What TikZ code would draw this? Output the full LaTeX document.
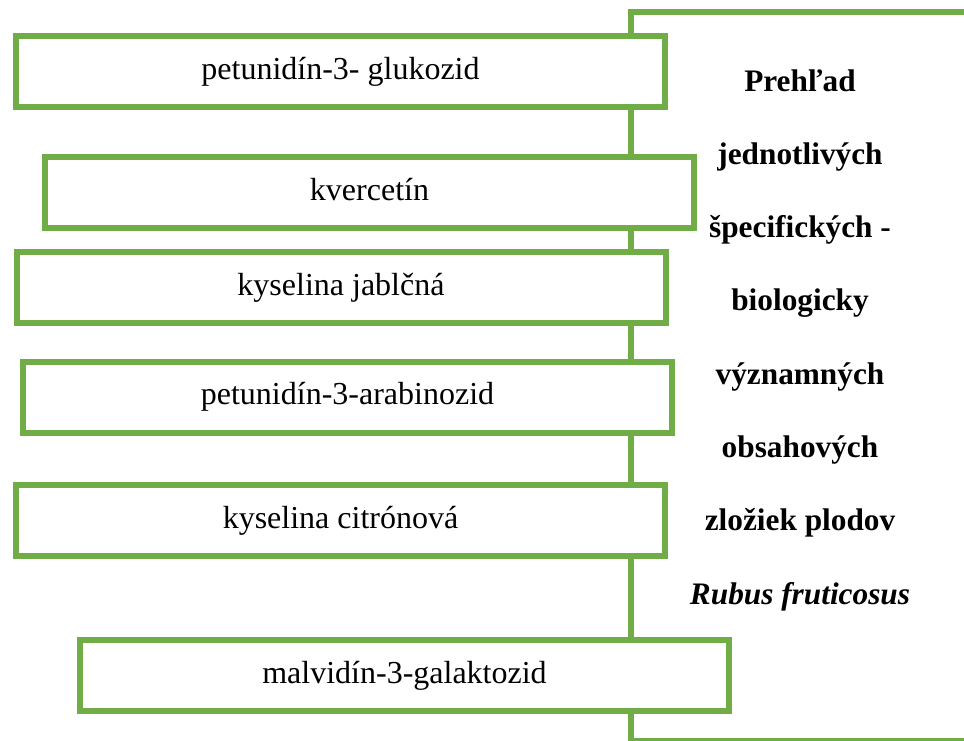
\documentclass[tikz,border=0pt]{standalone}
\usepackage{fontspec}
\setmainfont{Liberation Serif}
\definecolor{leaf}{RGB}{112,173,71}
\tikzset{
  item/.style={draw=leaf, line width=6pt, fill=white, minimum width=649pt,
    minimum height=71pt, inner sep=0pt, text height=22pt, text depth=7pt,
    font=\fontsize{32}{38}\selectfont},
  titleline/.style={anchor=base, inner sep=0pt, font=\fontsize{31.3}{37}\selectfont\bfseries},
  frameline/.style={draw=leaf, line width=6pt}
}
\begin{document}
\begin{tikzpicture}[x=1pt, y=-1pt]
  \useasboundingbox (0,0) rectangle (964,740);
  \clip (0,0) rectangle (964,740);
  % outer frame, open beyond the right and bottom edges
  \coordinate (ftr) at (990,12);
  \coordinate (ftl) at (631,12);
  \coordinate (fbl) at (631,741);
  \coordinate (fbr) at (990,741);
  \draw[frameline] (ftr) -- (ftl) -- (fbl) -- (fbr);
  % title column
  \foreach \t [count=\i] in {Prehľad, jednotlivých, špecifických -, biologicky,
      významných, obsahových, zložiek plodov, \textit{Rubus fruticosus}} {
    \node[titleline] (title\i) at (800, 91+73.3*\i-73.3) {\t};
  }
  % component boxes
  \node[item] (b1) at (340.5,71.5) {petunidín-3- glukozid};
  \node[item] (b2) at (369.5,192.5) {kvercetín};
  \node[item] (b3) at (341,287.5) {kyselina jablčná};
  \node[item] (b4) at (347.5,397) {petunidín-3-arabinozid};
  \node[item] (b5) at (340.5,520.5) {kyselina citrónová};
  \node[item] (b6) at (404.5,675.5) {malvidín-3-galaktozid};
\end{tikzpicture}
\end{document}
